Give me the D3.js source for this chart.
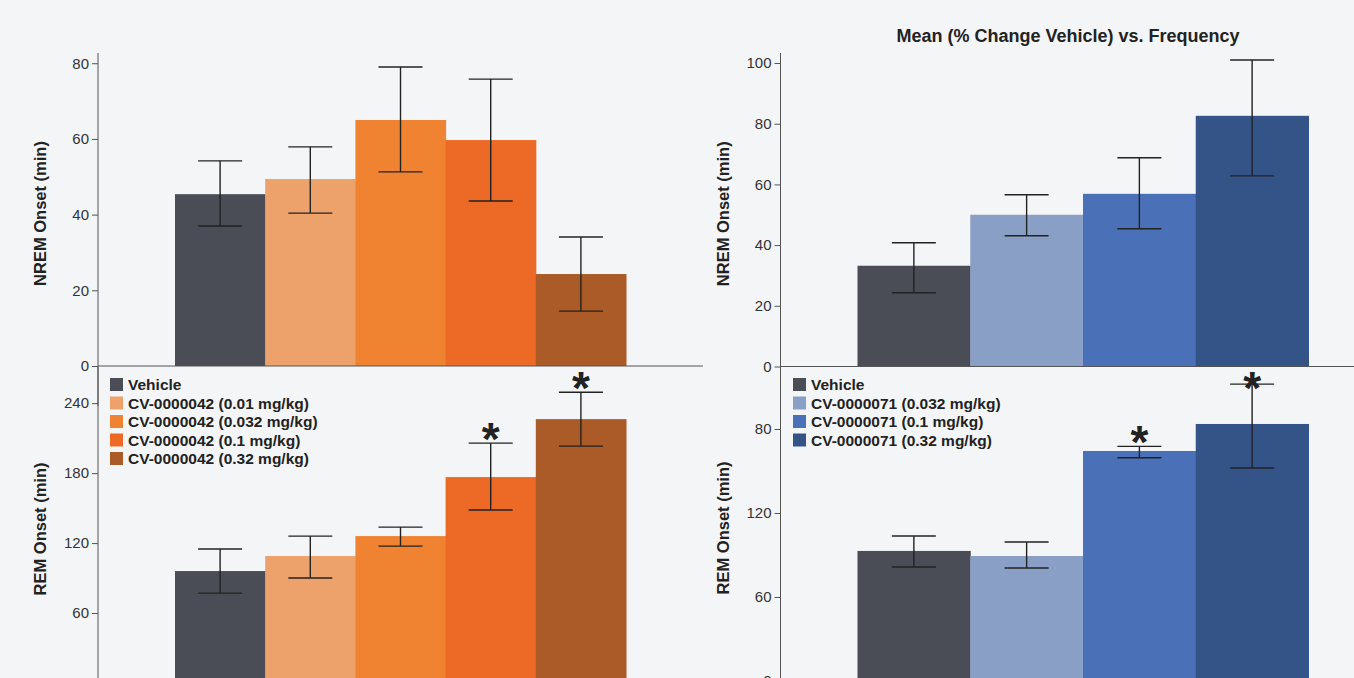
<!DOCTYPE html>
<html>
<head>
<meta charset="utf-8">
<script src="https://cdn.jsdelivr.net/npm/d3@7"></script>
<style>
  body { margin: 0; background: #f4f5f7; overflow: hidden; }
  svg { display: block; font-family: "Liberation Sans", Arial, sans-serif; }
</style>
</head>
<body>
<script>
// groups and colours
const groupsA = ["Vehicle", "CV-0000042 (0.01 mg/kg)", "CV-0000042 (0.032 mg/kg)", "CV-0000042 (0.1 mg/kg)", "CV-0000042 (0.32 mg/kg)"];
const colorsA = ["#4a4d55", "#eea26b", "#ef8332", "#ec6a25", "#ab5b27"];
const groupsB = ["Vehicle", "CV-0000071 (0.032 mg/kg)", "CV-0000071 (0.1 mg/kg)", "CV-0000071 (0.32 mg/kg)"];
const colorsB = ["#4a4d55", "#8a9fc5", "#4a71b7", "#345386"];

// NREM onset, compound 42
const nremMeanA = [45.4, 49.4, 65.0, 59.7, 24.3];
const nremLowA = [37.0, 40.4, 51.3, 43.6, 14.5];
const nremHighA = [54.2, 57.9, 79.0, 75.8, 34.1];
// REM onset, compound 42
const remMeanA = [96.0, 108.9, 126.0, 176.6, 226.3];
const remLowA = [77.1, 90.0, 117.4, 148.3, 203.1];
const remHighA = [114.9, 126.0, 133.7, 205.7, 249.4];
const remStarsA = [false, false, false, true, true];

// NREM onset, compound 71
const nremMeanB = [33.2, 50.0, 56.9, 82.6];
const nremLowB = [24.3, 43.1, 45.4, 62.8];
const nremHighB = [40.8, 56.6, 68.8, 101.0];
// REM onset, compound 71
const remMeanB = [92.9, 89.3, 164.3, 183.6];
const remLowB = [81.4, 80.7, 159.5, 152.1];
const remHighB = [103.6, 99.3, 167.6, 212.1];
const remStarsB = [false, false, true, true];

// axis ticks
const nremTicksA = [0, 20, 40, 60, 80];
const nremTicksB = [0, 20, 40, 60, 80, 100];
const remTicksA = [0, 60, 120, 180, 240];
const remTicksB = [0, 60, 120, 180];
const remTickLabelsB = ["0", "60", "120", "80"];

const title = "Mean (% Change Vehicle) vs. Frequency";

window.onload = function() {
  const svg = d3.select("body").append("svg")
    .attr("width", 1354)
    .attr("height", 720);

  // top row
  makePanel(svg, {x0: 98, top: 53, bottom: 366, max: 82.7, groups: groupsA, colors: colorsA,
    mean: nremMeanA, low: nremLowA, high: nremHighA, ticks: nremTicksA,
    label: "NREM Onset (min)", xAxis: true});
  makePanel(svg, {x0: 780.5, top: 53, bottom: 366.5, max: 103.3, groups: groupsB, colors: colorsB,
    mean: nremMeanB, low: nremLowB, high: nremHighB, ticks: nremTicksB,
    label: "NREM Onset (min)", xAxis: true});

  // bottom row
  makePanel(svg, {x0: 98, top: 367, bottom: 683, max: 271, groups: groupsA, colors: colorsA,
    mean: remMeanA, low: remLowA, high: remHighA, ticks: remTicksA, stars: remStarsA,
    label: "REM Onset (min)", legend: true});
  makePanel(svg, {x0: 780.5, top: 367, bottom: 681, max: 224.3, groups: groupsB, colors: colorsB,
    mean: remMeanB, low: remLowB, high: remHighB, ticks: remTicksB, tickLabels: remTickLabelsB,
    stars: remStarsB, label: "REM Onset (min)", legend: true});

  svg.append("text")
    .attr("x", 1068)
    .attr("y", 42)
    .attr("text-anchor", "middle")
    .style("font-size", "18px")
    .style("font-weight", "bold")
    .style("fill", "#222")
    .text(title);
};

function makePanel(svg, p) {
  const g = svg.append("g");

  let x = d3.scaleBand()
    .domain(p.groups)
    .range([p.x0 + 77, p.x0 + 528])
    .padding(0);

  let y = d3.scaleLinear()
    .domain([0, p.max])
    .range([p.bottom, p.top]);

  // bars
  g.selectAll(".bar")
    .data(p.groups)
    .enter()
    .append("rect")
    .attr("x", d => x(d))
    .attr("width", x.bandwidth() + 0.5)
    .attr("y", (d, i) => y(p.mean[i]))
    .attr("height", (d, i) => y(0) - y(p.mean[i]))
    .style("fill", (d, i) => p.colors[i]);

  // error bars
  const cap = 22;
  const err = g.selectAll(".err")
    .data(p.groups)
    .enter()
    .append("g")
    .attr("transform", d => "translate(" + (x(d) + x.bandwidth() / 2) + ",0)")
    .style("stroke", "#222")
    .style("stroke-width", 1.4);
  err.append("line")
    .attr("y1", (d, i) => y(p.low[i]))
    .attr("y2", (d, i) => y(p.high[i]));
  err.append("line")
    .attr("x1", -cap).attr("x2", cap)
    .attr("y1", (d, i) => y(p.high[i]))
    .attr("y2", (d, i) => y(p.high[i]));
  err.append("line")
    .attr("x1", -cap).attr("x2", cap)
    .attr("y1", (d, i) => y(p.low[i]))
    .attr("y2", (d, i) => y(p.low[i]));

  // significance stars
  if (p.stars) {
    g.selectAll(".star")
      .data(p.groups.filter((d, i) => p.stars[i]))
      .enter()
      .append("text")
      .attr("x", d => x(d) + x.bandwidth() / 2)
      .attr("y", d => {
        let i = p.groups.indexOf(d);
        let topY = Math.max(y(p.high[i]) - 21, p.top + 4);
        return topY + 33;
      })
      .attr("text-anchor", "middle")
      .style("font-size", "46px")
      .style("font-weight", "bold")
      .style("fill", "#222")
      .text("*");
  }

  // y axis
  let yAxis = d3.axisLeft(y)
    .tickValues(p.ticks)
    .tickSize(6)
    .tickPadding(3)
    .tickFormat((d, i) => p.tickLabels ? p.tickLabels[i] : d);
  const ya = g.append("g")
    .attr("transform", "translate(" + p.x0 + ",0)")
    .call(yAxis);
  ya.select(".domain").remove();
  ya.append("line")
    .attr("y1", p.top).attr("y2", p.bottom + 40)
    .style("stroke", "#555");
  ya.selectAll(".tick line").style("stroke", "#555");
  ya.selectAll(".tick text")
    .style("font-size", "15px")
    .style("fill", "#333")
    .style("font-family", "Liberation Sans, Arial, sans-serif");

  // x axis line
  if (p.xAxis) {
    g.append("line")
      .attr("x1", p.x0).attr("x2", p.x0 + 605)
      .attr("y1", p.bottom).attr("y2", p.bottom)
      .style("stroke", "#555");
  }

  // axis label
  g.append("text")
    .attr("transform", "translate(" + (p.x0 - 52) + "," + ((p.top + Math.min(p.bottom, 711)) / 2 + 4) + ")rotate(-90)")
    .attr("text-anchor", "middle")
    .style("font-size", "16.5px")
    .style("font-weight", "bold")
    .style("fill", "#222")
    .text(p.label);

  // legend
  if (p.legend) {
    let legend = g.selectAll(".legend")
      .data(p.groups)
      .enter()
      .append("g")
      .attr("transform", (d, i) => "translate(" + Math.round(p.x0 + 12) + "," + (378 + i * 18.5) + ")");
    legend.append("rect")
      .attr("width", 13)
      .attr("height", 13)
      .style("fill", (d, i) => p.colors[i]);
    legend.append("text")
      .attr("x", 18)
      .attr("y", 12)
      .style("font-size", "15.5px")
      .style("font-weight", "bold")
      .style("fill", "#222")
      .text(d => d);
  }
}
</script>
</body>
</html>
